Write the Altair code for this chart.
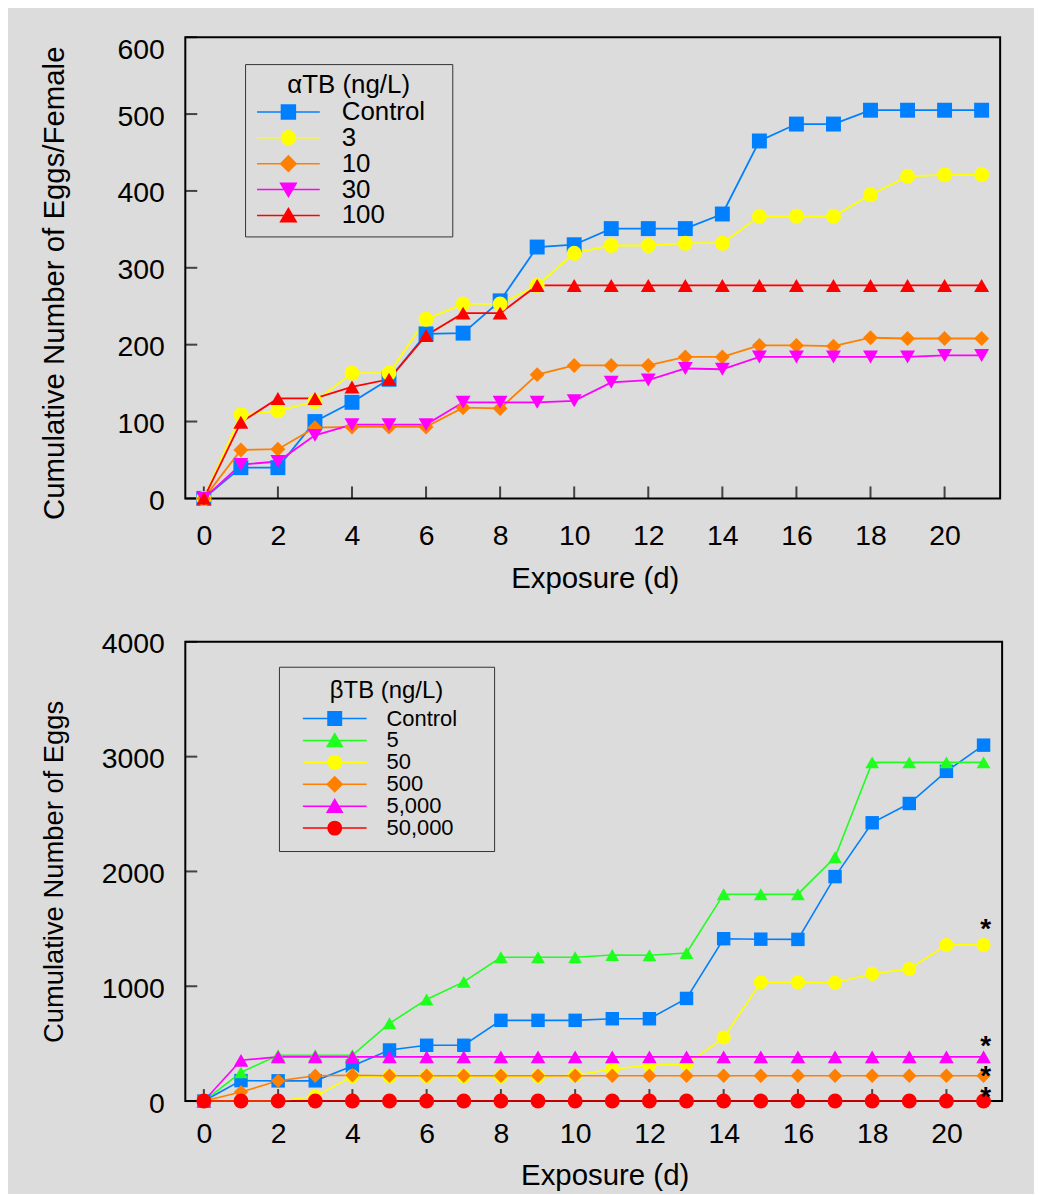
import altair as alt
import pandas as pd

FONT = "Liberation Sans"

days = list(range(22))
x_tick_vals = [0, 2, 4, 6, 8, 10, 12, 14, 16, 18, 20]

# ---- Top panel: alpha-TB ----
a_groups = ["Control", "3", "10", "30", "100"]
a_control = [0, 40, 40, 100, 125, 155, 214, 215, 257, 327, 330, 351, 351, 351, 370, 465, 487, 487, 505, 505, 505, 505]
a_3 = [0, 109, 114, 126, 163, 163, 233, 253, 253, 277, 319, 329, 329, 332, 332, 367, 367, 367, 395, 419, 421, 421]
a_10 = [0, 63, 64, 92, 93, 93, 93, 118, 117, 161, 173, 173, 173, 184, 184, 199, 199, 198, 209, 208, 208, 208]
a_30 = [0, 44, 48, 82, 96, 96, 96, 125, 125, 125, 127, 151, 154, 169, 168, 184, 184, 184, 184, 184, 186, 186]
a_100 = [0, 99, 130, 130, 145, 155, 212, 241, 241, 277, 277, 277, 277, 277, 277, 277, 277, 277, 277, 277, 277, 277]
a_colors = ["#0080ff", "#ffff00", "#ff8000", "#ff00ff", "#ff0000"]
a_shapes = ["square", "circle", "diamond", "triangle-down", "triangle-up"]
a_sizes = [225, 225, 256, 256, 256]
a_y_ticks = [0, 100, 200, 300, 400, 500, 600]

# ---- Bottom panel: beta-TB ----
b_groups = ["Control", "5", "50", "500", "5,000", "50,000"]
b_control = [0, 178, 176, 176, 306, 445, 486, 486, 703, 703, 703, 717, 717, 894, 1414, 1410, 1408, 1955, 2424, 2592, 2872, 3100]
b_5 = [0, 250, 399, 399, 399, 677, 885, 1038, 1252, 1252, 1252, 1272, 1270, 1290, 1802, 1802, 1802, 2123, 2950, 2950, 2950, 2950]
b_50 = [0, 0, 0, 40, 215, 215, 215, 215, 215, 215, 225, 278, 312, 321, 553, 1035, 1035, 1030, 1108, 1151, 1360, 1360]
b_500 = [0, 78, 176, 220, 225, 220, 220, 220, 220, 220, 220, 220, 220, 220, 220, 220, 220, 220, 220, 220, 220, 220]
b_5000 = [0, 355, 385, 385, 385, 385, 385, 385, 385, 385, 385, 385, 385, 385, 385, 385, 385, 385, 385, 385, 385, 385]
b_50000 = [0, 0, 0, 0, 0, 0, 0, 0, 0, 0, 0, 0, 0, 0, 0, 0, 0, 0, 0, 0, 0, 0]
b_colors = ["#0080ff", "#1eff1e", "#ffff00", "#ff8000", "#ff00ff", "#ff0000"]
b_shapes = ["square", "triangle-up", "circle", "diamond", "triangle-up", "circle"]
b_sizes = [182, 225, 170, 196, 225, 170]
b_y_ticks = [0, 1000, 2000, 3000, 4000]
star_groups = ["50", "5,000", "500", "50,000"]
star_dy = [-15, -10, 1, -3]

LABEL_FS = 28.5


def legend_paths(shapes, half_line, r, ext):
    line = f"M-{half_line},0H{half_line}"
    out = []
    for s in shapes:
        if s == "square":
            p = f"M-{r},-{r}H{r}V{r}H-{r}Z"
        elif s == "circle":
            p = f"M-{r},0A{r},{r},0,1,0,{r},0A{r},{r},0,1,0,-{r},0Z"
        elif s == "diamond":
            q = round(r * 1.12, 3)
            p = f"M-{q},0L0,-{q}L{q},0L0,{q}Z"
        elif s == "triangle-down":
            q = round(r * 1.12, 3)
            p = f"M-{q},-{round(q*0.8,3)}L{q},-{round(q*0.8,3)}L0,{round(q*0.9,3)}Z"
        else:
            q = round(r * 1.12, 3)
            p = f"M-{q},{round(q*0.8,3)}L{q},{round(q*0.8,3)}L0,-{round(q*0.9,3)}Z"
        out.append(line + p + f"M{ext},0")
    return out


def long_df(groups, series):
    frames = []
    for g, vals in zip(groups, series):
        frames.append(pd.DataFrame({"Exposure": days, "Eggs": vals, "Group": g}))
    return pd.concat(frames, ignore_index=True)


def panel(df, groups, colors, shapes, sizes, leg_title, leg_x, leg_y, leg_title_font, leg_font,
          leg_size, leg_half_line, leg_r, leg_ext, leg_pad, leg_sym_off, leg_label_off, leg_title_pad,
          y_dom, y_ticks, w, h, y_title, y_title_fs, y_title_shift, x_label_pad, x_title_y,
          x_title_shift, flush_val, line_w):
    xs = alt.Scale(domain=[-0.5, 21.5], nice=False, zero=False)
    ys = alt.Scale(domain=y_dom, nice=False, zero=False)
    x_axis = alt.Axis(values=x_tick_vals, ticks=False, domain=False, grid=False,
                      labelFontSize=LABEL_FS, labelPadding=x_label_pad, labelColor="black",
                      labelFont=FONT, labelOverlap=False, labelFlush=False,
                      title="Exposure (d)", titleFontSize=29.5, titleFontWeight="normal",
                      titleColor="black", titleFont=FONT, titleY=x_title_y,
                      titleX=w / 2 + x_title_shift, titleAlign="center",
                      titleBaseline="middle")
    y_axis = alt.Axis(values=y_ticks, format="d", ticks=False, domain=False, grid=False,
                      labelFontSize=LABEL_FS, labelPadding=21, labelColor="black", labelFont=FONT,
                      labelOverlap=False, labelFlush=False,
                      labelOffset={"condition": {"test": f"datum.value === {flush_val}", "value": 12},
                                   "value": 2},
                      title=y_title, titleFontSize=y_title_fs, titleFontWeight="normal",
                      titleColor="black", titleFont=FONT, titleX=-131, titleY=h / 2 + y_title_shift,
                      titleAlign="center", titleBaseline="middle", titleAngle=270)
    base = alt.Chart(df)
    ticks_df = pd.DataFrame({"t": x_tick_vals})
    yticks_df = pd.DataFrame({"t": y_ticks})
    lines = base.mark_line(strokeWidth=line_w).encode(
        x=alt.X("Exposure:Q", scale=xs, axis=x_axis),
        y=alt.Y("Eggs:Q", scale=ys, axis=y_axis),
        color=alt.Color("Group:N", scale=alt.Scale(domain=groups, range=colors), legend=None),
    )
    xt = alt.Chart(ticks_df).mark_tick(orient="vertical", size=12, thickness=2, color="black").encode(
        x=alt.X("t:Q", scale=xs, axis=x_axis), y=alt.value(h - 6))
    yt = alt.Chart(yticks_df).mark_tick(orient="horizontal", size=12, thickness=2, color="black").encode(
        y=alt.Y("t:Q", scale=ys, axis=y_axis), x=alt.value(6))
    pts = base.mark_point(filled=True, opacity=1, strokeWidth=0).encode(
        x=alt.X("Exposure:Q", scale=xs, axis=x_axis),
        y=alt.Y("Eggs:Q", scale=ys, axis=y_axis),
        color=alt.Color("Group:N", scale=alt.Scale(domain=groups, range=colors), legend=None),
        shape=alt.Shape("Group:N", scale=alt.Scale(domain=groups, range=shapes), legend=None),
        size=alt.Size("Group:N", scale=alt.Scale(domain=groups, range=sizes), legend=None),
    )
    leg = alt.Legend(title=leg_title, orient="none", legendX=leg_x, legendY=leg_y,
                     titleFontSize=leg_title_font, titleFontWeight="normal", titleFont=FONT,
                     titleColor="black", titleAnchor="middle", titleAlign="center",
                     labelFontSize=leg_font, labelFont=FONT, labelColor="black",
                     labelOffset=leg_label_off, rowPadding=0,
                     symbolOffset=leg_sym_off,
                     strokeColor="#333333", fillColor="#dcdcdc", padding=leg_pad,
                     symbolSize=leg_size, symbolStrokeWidth=1.5, symbolOpacity=1,
                     titlePadding=leg_title_pad)
    paths = legend_paths(shapes, leg_half_line, leg_r, leg_ext)
    legl = base.transform_filter("false").mark_point(filled=True, opacity=1, size=leg_size,
                                                     strokeWidth=1.5).encode(
        x=alt.X("Exposure:Q", scale=xs, axis=x_axis),
        y=alt.Y("Eggs:Q", scale=ys, axis=y_axis),
        color=alt.Color("Group:N", scale=alt.Scale(domain=groups, range=colors), legend=leg),
        stroke=alt.Stroke("Group:N", scale=alt.Scale(domain=groups, range=colors), legend=leg),
        shape=alt.Shape("Group:N", scale=alt.Scale(domain=groups, range=paths), legend=leg),
    )
    return [lines, xt, yt, pts, legl], xs, ys, x_axis, y_axis


a_df = long_df(a_groups, [a_control, a_3, a_10, a_30, a_100])
b_df = long_df(b_groups, [b_control, b_5, b_50, b_500, b_5000, b_50000])

TW, TH = 818, 463
BW, BH = 820, 461

top_layers, _, _, _, _ = panel(
    a_df, a_groups, a_colors, a_shapes, a_sizes, "αTB (ng/L)", 60, 27, 26, 26,
    196, 4.5, 1.0, 21.8, 8, 22.5, 40.5, 1,
    [0, 600], a_y_ticks, TW, TH, "Cumulative Number of Eggs/Female", 29.5, 15, 23, 80, 2, 600, 1.8)
bot_layers, bxs, bys, bxa, bya = panel(
    b_df, b_groups, b_colors, b_shapes, b_sizes, "βTB (ng/L)", 94, 25, 24, 22,
    182, 4.744, 1.0, 21.35, 12, 33, 41, 5,
    [0, 4000], b_y_ticks, BW, BH, "Cumulative Number of Eggs", 27.5, 0, 19, 75, 11, -1, 1.6)

# asterisks on the final-day values of significantly different groups
last_vals = dict(zip(b_groups, [b_control[-1], b_5[-1], b_50[-1], b_500[-1], b_5000[-1], b_50000[-1]]))
star_layers = []
for g, dy in zip(star_groups, star_dy):
    sdf = pd.DataFrame({"Exposure": [21], "Eggs": [last_vals[g]], "s": ["*"]})
    star_layers.append(
        alt.Chart(sdf).mark_text(fontSize=28, fontWeight="bold", font=FONT, color="black",
                                 dx=2, dy=dy, baseline="middle", align="center").encode(
            x=alt.X("Exposure:Q", scale=bxs, axis=bxa),
            y=alt.Y("Eggs:Q", scale=bys, axis=bya),
            text="s:N")
    )

res = dict(color="independent", shape="independent", size="independent", stroke="independent")
top = alt.layer(*top_layers).resolve_scale(**res).properties(width=TW, height=TH)
bottom = alt.layer(*(bot_layers + star_layers)).resolve_scale(**res).properties(width=BW, height=BH)

chart = alt.vconcat(top, bottom, spacing=35).resolve_scale(
    color="independent", shape="independent", size="independent", stroke="independent",
    x="independent", y="independent"
).properties(
    padding={"left": 30, "top": 24, "right": 31, "bottom": 0}
).configure(
    background="#dcdcdc", font=FONT
).configure_view(
    stroke="black", strokeWidth=2
)

chart.save("out.html", embed_options={"renderer": "svg", "actions": False})
